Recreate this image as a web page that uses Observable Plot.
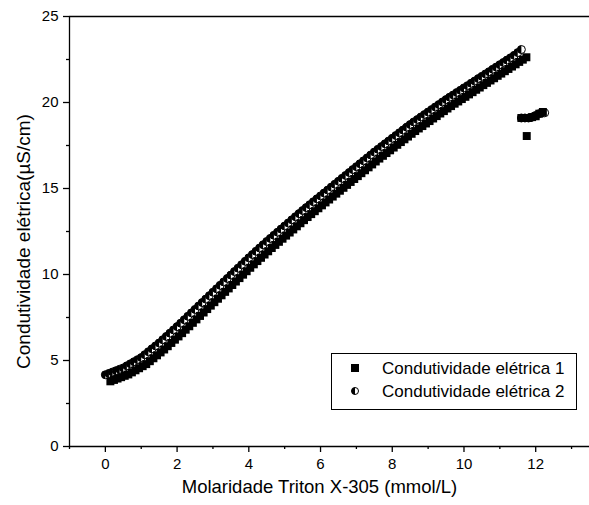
<!DOCTYPE html>
<html>
<head>
<meta charset="utf-8">
<script src="https://cdn.jsdelivr.net/npm/d3@7"></script>
<script src="https://cdn.jsdelivr.net/npm/@observablehq/plot@0.6"></script>
<style>
  html, body { margin: 0; padding: 0; background: white; }
  #wrap { position: relative; width: 589px; height: 505px; font-family: "Liberation Sans", Arial, sans-serif; }
  #wrap svg.plot { display: block; }
  #legend { position: absolute; left: 331px; top: 353px; width: 246px; height: 57px; box-sizing: border-box;
            border: 1px solid black; background: white; }
  .entry { position: absolute; left: 0; height: 20px; font-size: 17px; line-height: 20px; color: black; white-space: nowrap; }
  .entry svg { position: absolute; left: 17px; top: 3px; }
  .entry span { position: absolute; left: 50px; top: 0; }
</style>
</head>
<body>
<div id="wrap"></div>
<script>
// ---- data ----
// series 2 (circles) molarity
const molarity2 = [
  0.0,0.1,0.2,0.3,0.4,0.5,0.6,0.7,0.8,0.9,1.0,
  1.1,1.2,1.3,1.4,1.5,1.6,1.7,1.8,1.9,2.0,
  2.1,2.2,2.3,2.4,2.5,2.6,2.7,2.8,2.9,3.0,
  3.1,3.2,3.3,3.4,3.5,3.6,3.7,3.8,3.9,4.0,
  4.1,4.2,4.3,4.4,4.5,4.6,4.7,4.8,4.9,5.0,
  5.1,5.2,5.3,5.4,5.5,5.6,5.7,5.8,5.9,6.0,
  6.1,6.2,6.3,6.4,6.5,6.6,6.7,6.8,6.9,7.0,
  7.1,7.2,7.3,7.4,7.5,7.6,7.7,7.8,7.9,8.0,
  8.1,8.2,8.3,8.4,8.5,8.6,8.7,8.8,8.9,9.0,
  9.1,9.2,9.3,9.4,9.5,9.6,9.7,9.8,9.9,10.0,
  10.1,10.2,10.3,10.4,10.5,10.6,10.7,10.8,10.9,11.0,
  11.1,11.2,11.3,11.4,11.5,11.6
];
// series 1 (squares) molarity
const molarity1 = [
  0.14,0.24,0.34,0.44,0.54,0.64,0.74,0.84,0.94,1.04,1.14,
  1.24,1.34,1.44,1.54,1.64,1.74,1.84,1.94,2.04,2.14,
  2.24,2.34,2.44,2.54,2.64,2.74,2.84,2.94,3.04,3.14,
  3.24,3.34,3.44,3.54,3.64,3.74,3.84,3.94,4.04,4.14,
  4.24,4.34,4.44,4.54,4.64,4.74,4.84,4.94,5.04,5.14,
  5.24,5.34,5.44,5.54,5.64,5.74,5.84,5.94,6.04,6.14,
  6.24,6.34,6.44,6.54,6.64,6.74,6.84,6.94,7.04,7.14,
  7.24,7.34,7.44,7.54,7.64,7.74,7.84,7.94,8.04,8.14,
  8.24,8.34,8.44,8.54,8.64,8.74,8.84,8.94,9.04,9.14,
  9.24,9.34,9.44,9.54,9.64,9.74,9.84,9.94,10.04,10.14,
  10.24,10.34,10.44,10.54,10.64,10.74,10.84,10.94,11.04,11.14,
  11.24,11.34,11.44,11.54,11.64,11.74
];
const cond1 = [
  3.79,3.87,3.95,4.03,4.11,4.19,4.31,4.43,4.55,4.67,4.79,
  4.96,5.13,5.30,5.47,5.64,5.83,6.02,6.21,6.40,6.59,
  6.79,6.99,7.19,7.39,7.59,7.79,7.99,8.19,8.39,8.59,
  8.79,8.99,9.19,9.39,9.59,9.79,9.99,10.19,10.39,10.59,
  10.78,10.97,11.16,11.35,11.54,11.72,11.90,12.08,12.26,12.44,
  12.62,12.80,12.98,13.16,13.34,13.51,13.68,13.85,14.02,14.19,
  14.36,14.53,14.70,14.87,15.04,15.21,15.38,15.55,15.72,15.89,
  16.06,16.23,16.40,16.57,16.74,16.90,17.06,17.22,17.38,17.54,
  17.70,17.86,18.02,18.18,18.34,18.49,18.63,18.78,18.92,19.07,
  19.21,19.36,19.50,19.65,19.79,19.93,20.06,20.20,20.33,20.47,
  20.60,20.74,20.87,21.01,21.14,21.28,21.41,21.55,21.68,21.82,
  21.95,22.09,22.22,22.36,22.49,22.63
];
const cond2 = [
  4.17,4.25,4.33,4.41,4.49,4.57,4.69,4.81,4.93,5.05,5.17,
  5.34,5.51,5.68,5.85,6.02,6.21,6.40,6.59,6.78,6.97,
  7.17,7.37,7.57,7.77,7.97,8.17,8.37,8.57,8.77,8.97,
  9.17,9.37,9.57,9.77,9.97,10.17,10.37,10.57,10.77,10.97,
  11.16,11.35,11.54,11.73,11.92,12.10,12.28,12.46,12.64,12.82,
  13.00,13.18,13.36,13.54,13.72,13.89,14.06,14.23,14.40,14.57,
  14.74,14.91,15.08,15.25,15.42,15.59,15.76,15.93,16.10,16.27,
  16.44,16.61,16.78,16.95,17.12,17.28,17.44,17.60,17.76,17.92,
  18.08,18.24,18.40,18.56,18.72,18.87,19.01,19.16,19.30,19.45,
  19.59,19.74,19.88,20.03,20.17,20.31,20.44,20.58,20.71,20.85,
  20.98,21.12,21.25,21.39,21.52,21.66,21.79,21.93,22.06,22.20,
  22.33,22.47,22.60,22.74,22.90,23.08
];
// points after the break
const molarityTail1 = [11.6, 11.7, 11.75, 11.8, 11.9, 12.0, 12.1, 12.2];
const condTail1     = [19.1, 19.1, 18.05, 19.1, 19.15, 19.2, 19.35, 19.45];
const molarityTail2 = [11.6, 11.7, 11.8, 11.9, 12.0, 12.1, 12.25];
const condTail2     = [19.1, 19.1, 19.1, 19.15, 19.25, 19.35, 19.4];

const xTicks = [0, 2, 4, 6, 8, 10, 12];
const xMinorTicks = [-1, 1, 3, 5, 7, 9, 11, 13];
const yTicks = [0, 5, 10, 15, 20, 25];
const yMinorTicks = [2.5, 7.5, 12.5, 17.5, 22.5];
const seriesNames = ["Condutividade elétrica 1", "Condutividade elétrica 2"];
const xTitle = "Molaridade Triton X-305 (mmol/L)";
const yTitle = "Condutividade elétrica(µS/cm)";

// ---- build tables ----
const s1 = molarity1.map((x, i) => ({x, y: cond1[i]}))
  .concat(molarityTail1.map((x, i) => ({x, y: condTail1[i]})));
const s2 = molarity2.map((x, i) => ({x, y: cond2[i]}))
  .concat(molarityTail2.map((x, i) => ({x, y: condTail2[i]})));

const halfLeft = {
  draw(ctx, size) {
    const r = Math.sqrt(size / Math.PI);
    ctx.moveTo(0, -r);
    ctx.arc(0, 0, r, -Math.PI / 2, Math.PI / 2, true);
    ctx.closePath();
  }
};

const sw = 1.3;
const chart = Plot.plot({
  width: 589,
  height: 505,
  marginLeft: 69,
  marginRight: 0,
  marginTop: 16,
  marginBottom: 59,
  x: {domain: [-1, 13.5]},
  y: {domain: [0, 25]},
  style: {fontFamily: "'Liberation Sans', Arial, sans-serif", fontSize: "15px", color: "black", background: "white"},
  marks: [
    Plot.axisX({ticks: xTicks, tickSize: 6, tickPadding: 6, strokeWidth: sw, label: null, fontSize: 15}),
    Plot.axisX({ticks: xMinorTicks, tickSize: 3, strokeWidth: sw, tickFormat: () => "", label: null}),
    Plot.axisY({ticks: yTicks, tickSize: 6, tickPadding: 5, strokeWidth: sw, label: null, fontSize: 15}),
    Plot.axisY({ticks: yMinorTicks, tickSize: 3, strokeWidth: sw, tickFormat: () => "", label: null}),
    Plot.ruleY([0], {stroke: "black", strokeWidth: sw}),
    Plot.ruleY([25], {stroke: "black", strokeWidth: sw}),
    Plot.ruleX([-1], {stroke: "black", strokeWidth: sw}),
    Plot.dot(s2, {x: "x", y: "y", symbol: "circle", r: 4, fill: "white", stroke: "black", strokeWidth: 1}),
    Plot.dot(s2, {x: "x", y: "y", symbol: halfLeft, r: 4, fill: "black", stroke: "none"}),
    Plot.dot(s1, {x: "x", y: "y", symbol: "square", r: 4.5, fill: "black", stroke: "none"}),
    Plot.text([xTitle], {frameAnchor: "bottom", lineAnchor: "middle", textAnchor: "middle", dx: -10, dy: 41, fontSize: 18.5, fill: "black"}),
    Plot.text([yTitle], {frameAnchor: "left", lineAnchor: "middle", textAnchor: "middle", rotate: -90, dx: -46, dy: 10, fontSize: 19, fill: "black"})
  ]
});

const wrap = document.getElementById("wrap");
wrap.appendChild(chart);

// legend
const legend = document.createElement("div");
legend.id = "legend";
legend.innerHTML = `
  <div class="entry" style="top:5px; width:100%">
    <svg width="12" height="12" viewBox="-6 -6 12 12"><rect x="-4" y="-4" width="8" height="8" fill="black"/></svg>
    <span>${seriesNames[0]}</span>
  </div>
  <div class="entry" style="top:28px; width:100%">
    <svg width="12" height="12" viewBox="-6 -6 12 12"><circle r="3.5" fill="white" stroke="black" stroke-width="1"/><path d="M0,-3.5A3.5,3.5 0 0 0 0,3.5Z" fill="black"/></svg>
    <span>${seriesNames[1]}</span>
  </div>`;
wrap.appendChild(legend);
</script>
</body>
</html>
